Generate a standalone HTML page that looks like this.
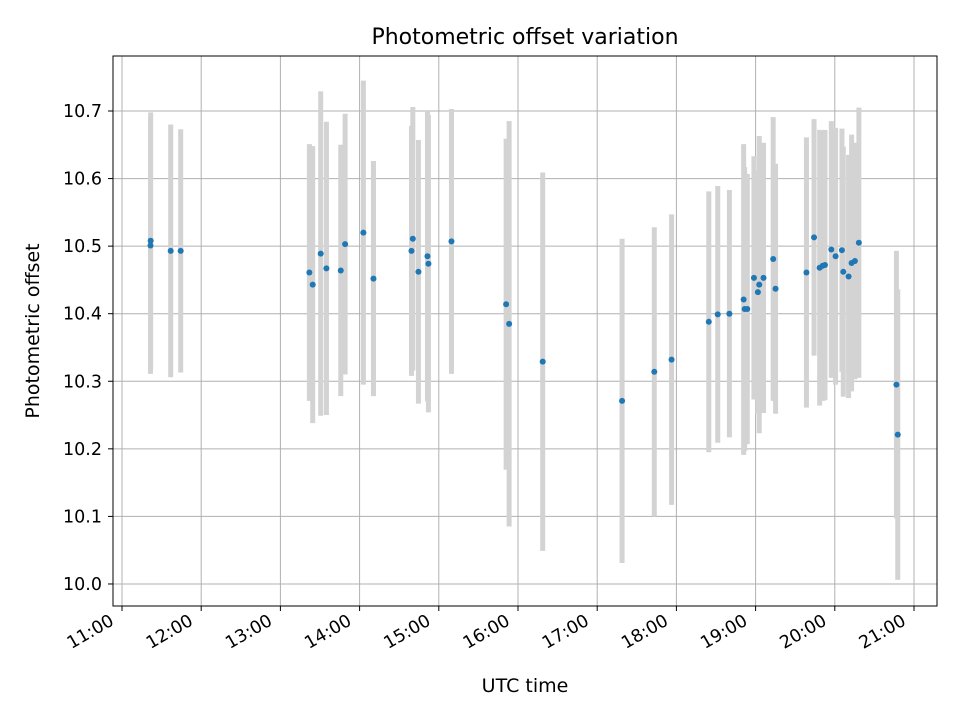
<!DOCTYPE html>
<html><head><meta charset="utf-8"><style>
body{margin:0;background:#fff;}
svg text{font-family:"DejaVu Sans","Liberation Sans",sans-serif;fill:#000;}
</style></head><body>
<svg id="chart" width="960" height="720" xmlns="http://www.w3.org/2000/svg">
<rect width="960" height="720" fill="#fff"/>
<g id="grid"></g>
<g id="errs"></g>
<g id="pts"></g>
<rect x="113" y="56" width="824" height="550" fill="none" stroke="#000" stroke-width="1"/>
<g id="axes"></g>
<text x="525" y="44" font-size="22" text-anchor="middle">Photometric offset variation</text>
<text x="525" y="692" font-size="19" text-anchor="middle">UTC time</text>
<text transform="translate(39,331) rotate(-90)" font-size="19" text-anchor="middle">Photometric offset</text>
</svg>
<script>
const hours=[11.362,11.36,11.615,11.741,13.366,13.408,13.509,13.581,13.762,13.817,14.048,14.175,14.655,14.672,14.743,14.857,14.869,15.16,15.85,15.888,16.312,17.314,17.721,17.939,18.409,18.522,18.669,18.849,18.862,18.895,18.979,19.029,19.046,19.1,19.222,19.252,19.642,19.738,19.809,19.847,19.876,19.956,20.01,20.09,20.107,20.174,20.212,20.254,20.304,20.778,20.795];
const offsets=[10.508,10.501,10.493,10.493,10.461,10.443,10.489,10.467,10.464,10.503,10.52,10.452,10.493,10.511,10.462,10.485,10.474,10.507,10.414,10.385,10.329,10.271,10.314,10.332,10.388,10.399,10.4,10.421,10.407,10.407,10.453,10.432,10.443,10.453,10.481,10.437,10.461,10.513,10.468,10.471,10.472,10.495,10.485,10.494,10.462,10.455,10.475,10.478,10.505,10.295,10.221];
const errors=[0.19,0.19,0.187,0.18,0.19,0.205,0.24,0.217,0.186,0.193,0.225,0.174,0.185,0.195,0.195,0.215,0.22,0.196,0.245,0.3,0.28,0.24,0.214,0.215,0.193,0.19,0.183,0.23,0.21,0.2,0.18,0.18,0.22,0.2,0.21,0.185,0.2,0.175,0.204,0.2,0.2,0.19,0.19,0.18,0.185,0.18,0.19,0.175,0.2,0.198,0.215];
const xTicks=[11,12,13,14,15,16,17,18,19,20,21];
const xTickLabels=["11:00","12:00","13:00","14:00","15:00","16:00","17:00","18:00","19:00","20:00","21:00"];
const yTicks=[10.0,10.1,10.2,10.3,10.4,10.5,10.6,10.7];
const yTickLabels=["10.0","10.1","10.2","10.3","10.4","10.5","10.6","10.7"];

const L=113,R=937,T=56,B=606;
const x0=10.8864,x1=21.2904,y0=9.9674,y1=10.7814;
const xs=h=>L+(h-x0)/(x1-x0)*(R-L);
const ys=v=>B-(v-y0)/(y1-y0)*(B-T);
const NS="http://www.w3.org/2000/svg";
function mk(tag,attrs,parent){const e=document.createElementNS(NS,tag);for(const k in attrs)e.setAttribute(k,attrs[k]);parent.appendChild(e);return e;}
const grid=document.getElementById('grid'),axes=document.getElementById('axes'),errs=document.getElementById('errs'),pts=document.getElementById('pts');
xTicks.forEach((t,i)=>{const x=xs(t);
 let g=mk('line',{x1:x,x2:x,y1:T,y2:B,stroke:'#b0b0b0','stroke-width':1},grid);
 
 
 let tk=mk('line',{x1:x,x2:x,y1:B,y2:B+5,stroke:'#000','stroke-width':1},axes);
 
 
 let tx=mk('text',{transform:`translate(${x-7},${B+18}) rotate(-30)`,'font-size':17.5,'text-anchor':'end'},axes);
 tx.textContent=xTickLabels[i];
 
 
});
yTicks.forEach((t,i)=>{const y=ys(t);
 let g=mk('line',{x1:L,x2:R,y1:y,y2:y,stroke:'#b0b0b0','stroke-width':1},grid);
 
 
 let tk=mk('line',{x1:L-5,x2:L,y1:y,y2:y,stroke:'#000','stroke-width':1},axes);
 
 
 let tx=mk('text',{x:L-11,y:y+6,'font-size':17.5,'text-anchor':'end'},axes);
 tx.textContent=yTickLabels[i];
 
 
});
hours.forEach((h,i)=>{const x=xs(h);
 let e=mk('line',{x1:x,x2:x,y1:ys(offsets[i]+errors[i]),y2:ys(offsets[i]-errors[i]),stroke:'#d3d3d3','stroke-width':5},errs);
 
 
});
hours.forEach((h,i)=>{
 let c=mk('circle',{cx:xs(h),cy:ys(offsets[i]),r:3,fill:'#1f77b4'},pts);
 
 
});
</script>
</body></html>
